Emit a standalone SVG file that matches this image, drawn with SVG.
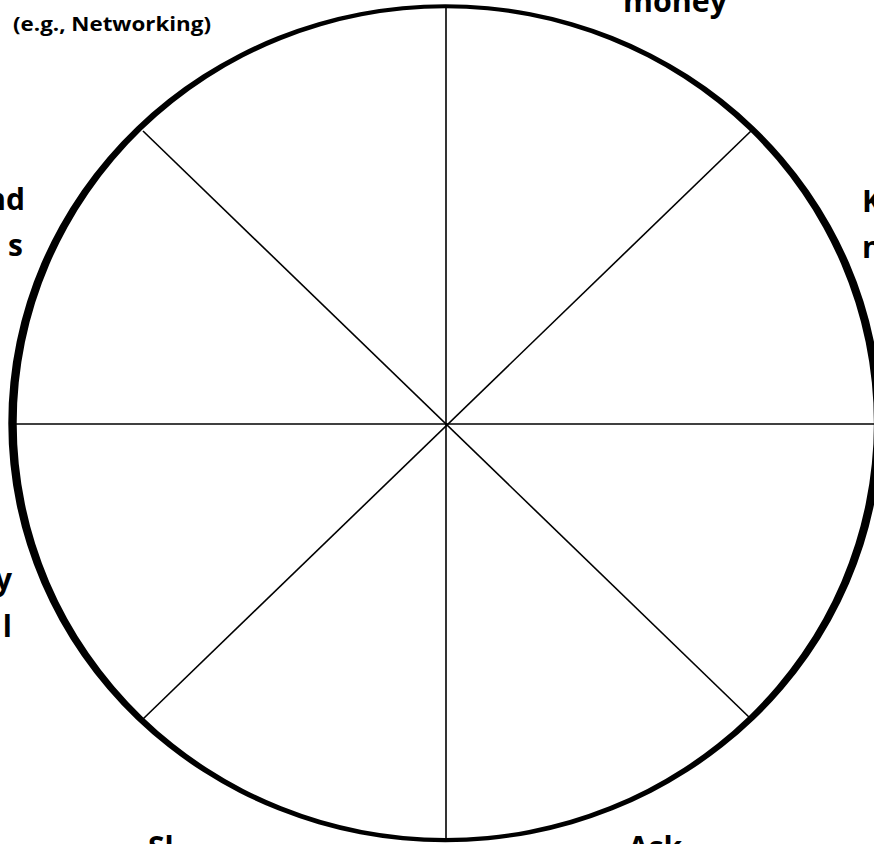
<svg xmlns="http://www.w3.org/2000/svg" width="874" height="844" viewBox="0 0 874 844">
<style>
.lbl{font-family:"Open Sans","Liberation Sans",sans-serif;font-weight:bold;fill:#000}
.big{font-size:30px}
.small{font-size:19.5px}
.spoke{stroke:#000;stroke-width:1.6;fill:none}
</style>
<rect width="874" height="844" fill="#fff"/>
<g id="connectors">
<line class="spoke" x1="446" y1="7" x2="446" y2="838"/>
<line class="spoke" x1="14" y1="424" x2="874" y2="424"/>
<line class="spoke" x1="143" y1="131" x2="751" y2="719"/>
<line class="spoke" x1="751" y1="131" x2="143" y2="719"/>
</g>
<g id="wheel">
<path fill="#000" fill-rule="evenodd" d="M8.3 423.2a437 418.8 0 1 0 874 0a437 418.8 0 1 0 -874 0Z M16.7 423.2a428.6 414.7 0 1 0 857.2 0a428.6 414.7 0 1 0 -857.2 0Z"/>
</g>
<g id="labels">
<text class="lbl small" x="13" y="31" textLength="198" lengthAdjust="spacingAndGlyphs">(e.g., Networking)</text>
<text class="lbl big" x="623" y="12" textLength="104" lengthAdjust="spacingAndGlyphs">money</text>
<text class="lbl big" x="25" y="210" text-anchor="end">nd</text>
<text class="lbl big" x="23" y="256" text-anchor="end">s</text>
<text class="lbl big" x="862" y="212">K</text>
<text class="lbl big" x="862" y="258">n</text>
<text class="lbl big" x="12" y="590" text-anchor="end">y</text>
<text class="lbl big" x="12" y="637" text-anchor="end">l</text>
<text class="lbl big" x="148" y="858">Sl</text>
<text class="lbl big" x="628" y="858">Ask</text>
</g>
</svg>
